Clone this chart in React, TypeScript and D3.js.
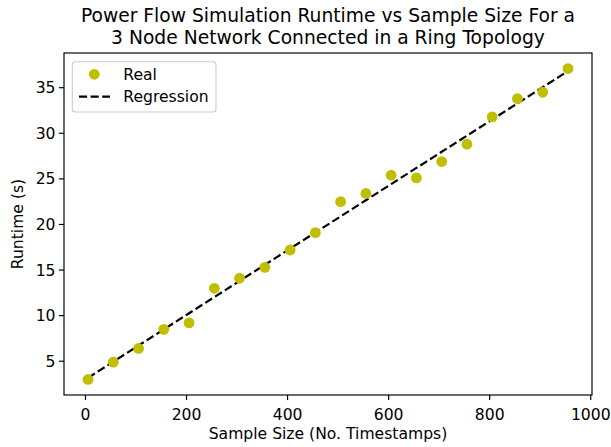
import React from "react";
import * as d3 from "d3";

const sampleSizes = [5, 55, 105, 155, 205, 255, 305, 355, 405, 455, 505, 555, 605, 655, 705, 755, 805, 855, 905, 955];
const runtimes = [3.0, 4.9, 6.4, 8.5, 9.2, 13.0, 14.1, 15.3, 17.2, 19.1, 22.5, 23.4, 25.4, 25.1, 26.9, 28.8, 31.8, 33.8, 34.5, 37.1];
const xTicks = [0, 200, 400, 600, 800, 1000];
const yTicks = [5, 10, 15, 20, 25, 30, 35];
const titleLines = [
  "Power Flow Simulation Runtime vs Sample Size For a",
  "3 Node Network Connected in a Ring Topology",
];
const legendLabels = ["Real", "Regression"];

const W = 611;
const H = 447;
const L = 64, R = 592, T = 53, B = 395;
const FONT = "DejaVu Sans, sans-serif";
const POINT_COLOR = "#bfbf00";

export default function App() {
  const x = d3.scaleLinear().domain([-42.5, 1002.5]).range([L, R]);
  const y = d3.scaleLinear().domain([1.295, 38.805]).range([B, T]);

  // least-squares regression computed from the data
  const mx = d3.mean(sampleSizes)!;
  const my = d3.mean(runtimes)!;
  let num = 0, den = 0;
  sampleSizes.forEach((sx, i) => {
    num += (sx - mx) * (runtimes[i] - my);
    den += (sx - mx) * (sx - mx);
  });
  const slope = num / den;
  const intercept = my - slope * mx;
  const regPts: [number, number][] = sampleSizes.map((sx) => [sx, intercept + slope * sx]);
  const line = d3.line<[number, number]>().x((d) => x(d[0])).y((d) => y(d[1]));

  const tickFs = 15.6;

  return (
    <svg width={W} height={H} style={{ position: "absolute", left: 0, top: 0, background: "#fff" }} fontFamily={FONT}>
      <rect x={0} y={0} width={W} height={H} fill="#fff" />
      {/* title */}
      {titleLines.map((t, i) => (
        <text key={i} x={(L + R) / 2} y={21.8 + i * 22.2} textAnchor="middle" fontSize={18.7} fill="#000">
          {t}
        </text>
      ))}
      {/* regression line */}
      <path d={line(regPts)!} fill="none" stroke="#000" strokeWidth={2.2} strokeDasharray="8.1,3.5" />
      {/* points */}
      {sampleSizes.map((sx, i) => (
        <circle key={i} cx={x(sx)} cy={y(runtimes[i])} r={5.4} fill={POINT_COLOR} />
      ))}
      {/* spines */}
      <rect x={L} y={T} width={R - L} height={B - T} fill="none" stroke="#000" strokeWidth={1.17} />
      {/* x ticks */}
      {xTicks.map((t) => (
        <g key={t} transform={`translate(${x(t)},${B})`}>
          <line y1={0} y2={5.1} stroke="#000" strokeWidth={1.17} />
          <text y={25} textAnchor="middle" fontSize={tickFs} fill="#000">{t}</text>
        </g>
      ))}
      {/* y ticks */}
      {yTicks.map((t) => (
        <g key={t} transform={`translate(${L},${y(t)})`}>
          <line x1={0} x2={-5.1} stroke="#000" strokeWidth={1.17} />
          <text x={-8.5} dy="0.36em" textAnchor="end" fontSize={tickFs} fill="#000">{t}</text>
        </g>
      ))}
      {/* axis labels */}
      <text x={(L + R) / 2} y={439} textAnchor="middle" fontSize={tickFs} fill="#000">
        Sample Size (No. Timestamps)
      </text>
      <text transform={`translate(22.5,${(T + B) / 2}) rotate(-90)`} textAnchor="middle" fontSize={tickFs} fill="#000">
        Runtime (s)
      </text>
      {/* legend */}
      <rect x={72.3} y={61.7} width={143.7} height={50.3} rx={3} fill="#fff" fillOpacity={0.8} stroke="#cccccc" strokeWidth={1.1} />
      <circle cx={94.3} cy={74.3} r={5.4} fill={POINT_COLOR} />
      <text x={123.3} y={74.3} dy="0.36em" fontSize={tickFs} fill="#000">{legendLabels[0]}</text>
      <line x1={79} x2={110} y1={96.7} y2={96.7} stroke="#000" strokeWidth={2.2} strokeDasharray="8.1,3.5" />
      <text x={123.3} y={96.7} dy="0.36em" fontSize={tickFs} fill="#000">{legendLabels[1]}</text>
    </svg>
  );
}
